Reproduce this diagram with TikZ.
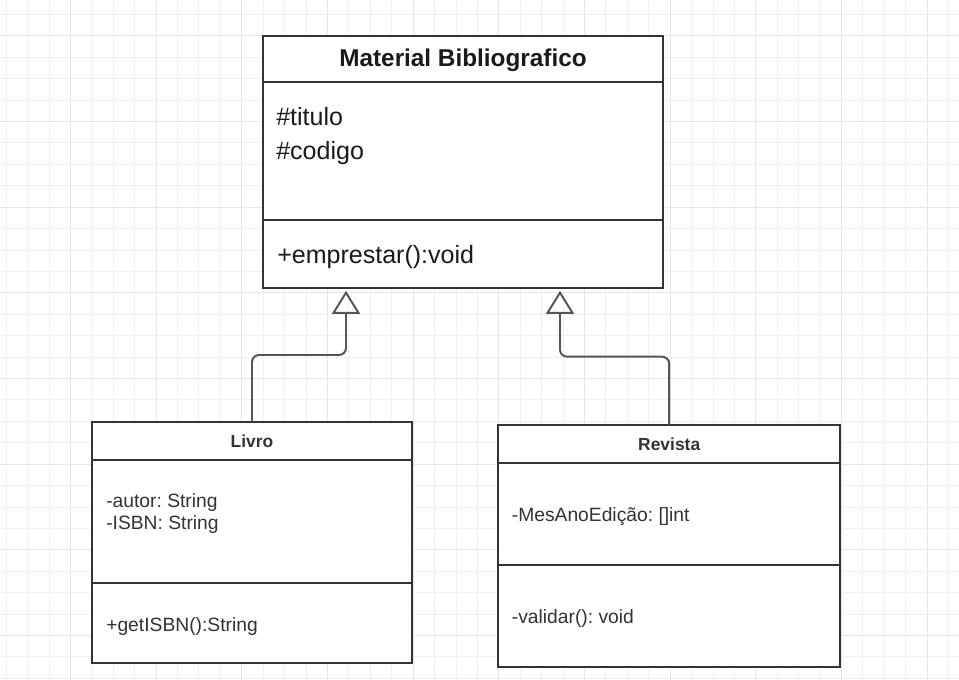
\documentclass[tikz,border=0pt]{standalone}
\usepackage{fontspec}
\setmainfont{Liberation Sans}
\usetikzlibrary{positioning,arrows.meta}
\definecolor{boxline}{RGB}{51,51,51}
\definecolor{linkline}{RGB}{85,85,85}
\definecolor{inktext}{RGB}{26,26,26}
\definecolor{softtext}{RGB}{51,51,51}
\definecolor{gridminor}{RGB}{240,240,240}
\definecolor{gridmajor}{RGB}{230,230,230}
\frenchspacing

\begin{document}
\begin{tikzpicture}[
    part/.style={draw=boxline, line width=1.4pt, outer sep=0pt, inner sep=0pt, fill=white},
    bigtitle/.style={inner sep=0pt, text=inktext, font=\fontsize{17.3}{21}\selectfont\bfseries},
    bigtext/.style={inner sep=0pt, text=inktext, font=\fontsize{17.8}{21}\selectfont},
    smalltitle/.style={inner sep=0pt, text=softtext, font=\fontsize{12.4}{15}\selectfont\bfseries},
    smalltext/.style={inner sep=0pt, text=softtext, font=\fontsize{13.7}{16}\selectfont},
    inherits/.style={draw=linkline, line width=1.4pt, rounded corners=5pt, -{Triangle[open, length=0.575cm, width=0.7cm]}},
    thin grid/.style={draw=gridminor, line width=0.6pt},
    thick grid/.style={draw=gridmajor, line width=0.6pt}
]

\useasboundingbox (0,0) rectangle (23.975,-17);
\fill[white] (0,0) rectangle (23.975,-17);
\foreach \k in {0,...,44} \draw[thin grid] (0.1525+\k*0.5355,0) -- ++(0,-17);
\foreach \k in {0,...,31} \draw[thin grid] (0,-0.3575-\k*0.5355) -- ++(23.975,0);
\foreach \k in {0,...,10} \draw[thick grid] (1.7575+\k*2.142,0) -- ++(0,-17);
\foreach \k in {0,...,7} \draw[thick grid] (0,-0.8925-\k*2.142) -- ++(23.975,0);

% Material Bibliografico
\node[part, anchor=north, minimum width=10cm, minimum height=1.1425cm] (mbHead) at (11.575,-0.9) {};
\node[part, below=0pt of mbHead, minimum width=10cm, minimum height=3.4575cm] (mbAttr) {};
\node[part, below=0pt of mbAttr, minimum width=10cm, minimum height=1.6925cm] (mbOps) {};
\node[bigtitle, anchor=base] (mbName) at (11.575,-1.6675) {Material Bibliografico};
\node[bigtext, anchor=base west] (mbTitulo) at (6.9,-3.1425) {\#titulo};
\node[bigtext, anchor=base west] (mbCodigo) at (6.9,-3.975) {\#codigo};
\node[bigtext, anchor=base west] (mbEmprestar) at (6.925,-6.5825) {+emprestar():void};

% Livro
\node[part, anchor=north, minimum width=8.015cm, minimum height=0.9575cm] (lvHead) at (6.3,-10.5425) {};
\node[part, below=0pt of lvHead, minimum width=8.015cm, minimum height=3.0825cm] (lvAttr) {};
\node[part, below=0pt of lvAttr, minimum width=8.015cm, minimum height=2cm] (lvOps) {};
\node[smalltitle, anchor=base] (lvName) at (6.3,-11.1825) {Livro};
\node[smalltext, anchor=base west] (lvAutor) at (2.65,-12.6825) {-autor: String};
\node[smalltext, anchor=base west] (lvIsbn) at (2.65,-13.225) {-ISBN: String};
\node[smalltext, anchor=base west] (lvGetIsbn) at (2.65,-15.7925) {+getISBN():String};

% Revista
\node[part, anchor=north, minimum width=8.5425cm, minimum height=0.9425cm] (rvHead) at (16.73,-10.625) {};
\node[part, below=0pt of rvHead, minimum width=8.5425cm, minimum height=2.5575cm] (rvAttr) {};
\node[part, below=0pt of rvAttr, minimum width=8.5425cm, minimum height=2.5425cm] (rvOps) {};
\node[smalltitle, anchor=base] (rvName) at (16.73,-11.2675) {Revista};
\node[smalltext, anchor=base west] (rvEdicao) at (12.79,-13.0425) {-MesAnoEdição: []int};
\node[smalltext, anchor=base west] (rvValidar) at (12.79,-15.5825) {-validar(): void};

\coordinate (lvTip) at (8.65,-7.27);
\coordinate (rvTip) at (14,-7.27);
\draw[inherits] (lvHead.north) -- ++(0,1.6675) -| (lvTip);
\draw[inherits] (rvHead.north) -- ++(0,1.7075) -| (rvTip);

\end{tikzpicture}
\end{document}
